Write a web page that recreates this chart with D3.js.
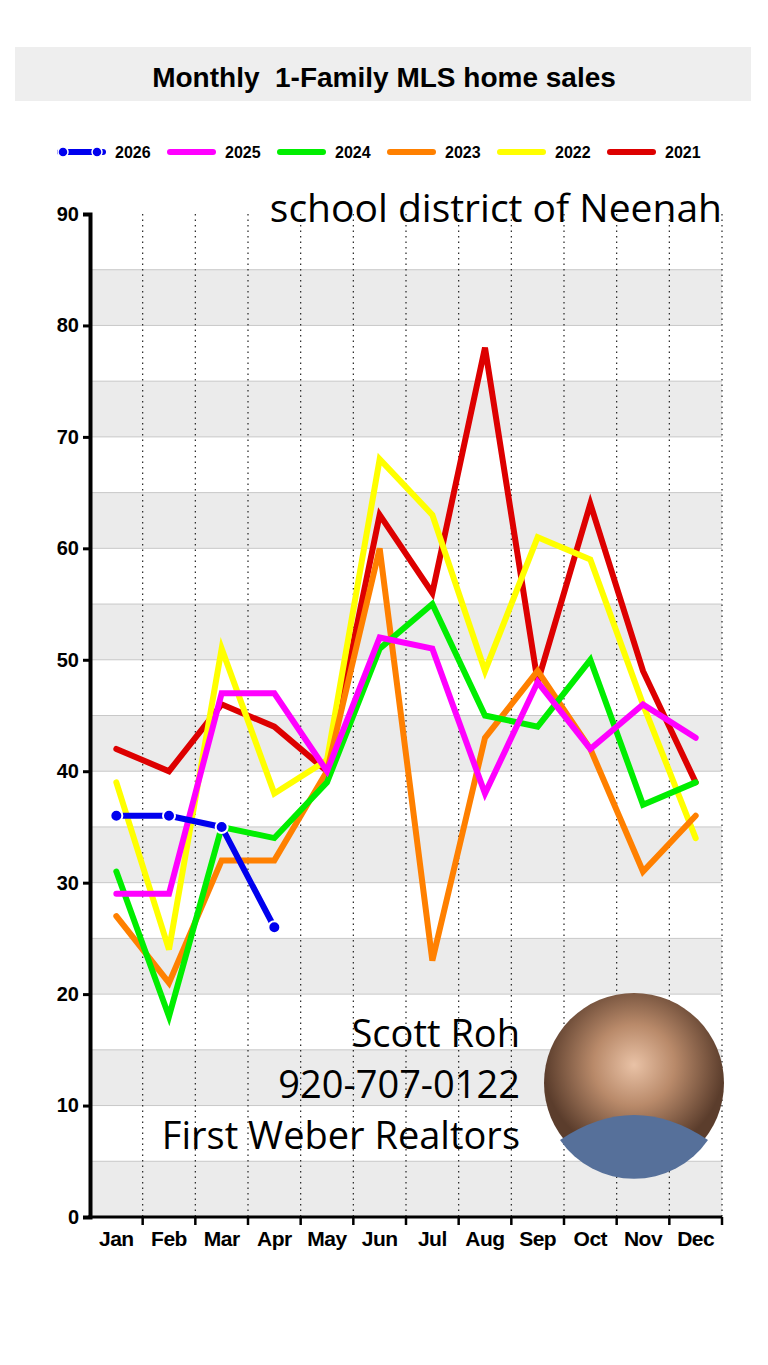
<!DOCTYPE html>
<meta charset="utf-8">
<script src="https://d3js.org/d3.v7.min.js"></script>
<style>
  body { margin: 0; background: #fff; }
  text { font-family: "Liberation Sans", Arial, sans-serif; }
</style>
<div id="chart"></div>
<script>
// data
var months = ["Jan","Feb","Mar","Apr","May","Jun","Jul","Aug","Sep","Oct","Nov","Dec"];
var years = ["2026","2025","2024","2023","2022","2021"];
var colors = ["#0000ee","#ff00ff","#00ee00","#ff8000","#ffff00","#dd0000"];
var s2026 = [36,36,35,26];
var s2025 = [29,29,47,47,40,52,51,38,48,42,46,43];
var s2024 = [31,18,35,34,39,51,55,45,44,50,37,39];
var s2023 = [27,21,32,32,40,60,23,43,49,42,31,36];
var s2022 = [39,24,51,38,41,68,63,49,61,59,46,34];
var s2021 = [42,40,46,44,40,63,56,78,48,64,49,39];
var yTicks = [0,10,20,30,40,50,60,70,80,90];

var series = [s2026,s2025,s2024,s2023,s2022,s2021];

var svg = d3.select("#chart").append("svg")
    .attr("width", 768).attr("height", 1365);

// title box
svg.append("rect").attr("x",15).attr("y",47).attr("width",736).attr("height",54).attr("fill","#eeeeee");
svg.append("text").attr("x",384).attr("y",87).attr("text-anchor","middle")
  .style("font-size","28px").style("font-weight","bold").style("white-space","pre")
  .text("Monthly  1-Family MLS home sales");

var pLeft = 90, pRight = 722, pTop = 214, pBottom = 1217;
var x = d3.scaleBand().domain(months).range([pLeft, pRight]);
var y = d3.scaleLinear().domain([0,90]).range([pBottom, pTop]);

// stripes
for (var v = 0; v < 90; v += 10) {
  svg.append("rect").attr("x",pLeft).attr("width",pRight-pLeft)
    .attr("y",y(v+5)).attr("height",y(v)-y(v+5)).attr("fill","#ebebeb");
}
// horizontal lines every 5
d3.range(5,90,5).forEach(function(v){
  svg.append("line").attr("x1",pLeft).attr("x2",pRight).attr("y1",y(v)).attr("y2",y(v))
    .attr("stroke","#c8c8c8").attr("stroke-width",1);
});
// vertical dotted lines at month boundaries
months.forEach(function(m){
  var xx = x(m) + x.bandwidth();
  svg.append("line").attr("x1",xx).attr("x2",xx).attr("y1",pTop).attr("y2",pBottom)
    .attr("stroke","#222").attr("stroke-width",1.2).attr("stroke-dasharray","1.5,4");
});

// axes
var ya = svg.append("g").attr("transform","translate("+pLeft+",0)")
  .call(d3.axisLeft(y).tickValues(yTicks).tickSize(7).tickPadding(4));
ya.select(".domain").attr("stroke-width",4);
ya.selectAll(".tick line").attr("stroke-width",3);
ya.selectAll("text").style("font-size","20px").style("font-weight","bold")
  .style("font-family","Liberation Sans, Arial");

var xa = svg.append("g").attr("transform","translate(0,"+pBottom+")")
  .call(d3.axisBottom(x).tickSize(0).tickPadding(14));
xa.select(".domain").attr("stroke-width",3).attr("d","M"+(pLeft-2)+",0H"+pRight);
xa.selectAll("text").style("font-size","21px").style("font-weight","bold")
  .style("font-family","Liberation Sans, Arial").style("letter-spacing","-0.5px");
months.forEach(function(m){
  var xx = x(m) + x.bandwidth();
  svg.append("line").attr("x1",xx).attr("x2",xx).attr("y1",pBottom).attr("y2",pBottom+8)
    .attr("stroke","#000").attr("stroke-width",2.5);
});

// lines, oldest first so newer sit on top
var line = d3.line().x(function(d,i){ return x(months[i]) + x.bandwidth()/2; })
  .y(function(d){ return y(d); });
for (var k = series.length-1; k >= 0; k--) {
  svg.append("path").attr("d", line(series[k])).attr("fill","none")
    .attr("stroke", colors[k]).attr("stroke-width", 6).attr("stroke-linejoin","miter")
    .attr("stroke-linecap","round");
}
svg.selectAll(".pt").data(s2026).enter().append("circle")
  .attr("cx",function(d,i){ return x(months[i]) + x.bandwidth()/2; })
  .attr("cy",function(d){ return y(d); }).attr("r",6)
  .attr("fill","#0000ee").attr("stroke","#fff").attr("stroke-width",2);

// legend
years.forEach(function(yr,i){
  var lx = 60 + i*110;
  svg.append("line").attr("x1",lx).attr("x2",lx+43).attr("y1",152).attr("y2",152)
    .attr("stroke",colors[i]).attr("stroke-width",6).attr("stroke-linecap","round");
  if (i === 0) {
    [lx+3, lx+37].forEach(function(cx){
      svg.append("circle").attr("cx",cx).attr("cy",152).attr("r",5)
        .attr("fill","#0000ee").attr("stroke","#fff").attr("stroke-width",1.5);
    });
  }
  svg.append("text").attr("x",lx+55).attr("y",158).style("font-size","16px")
    .style("font-weight","bold").text(yr);
});

// annotations
svg.append("text").attr("x",722).attr("y",222).attr("text-anchor","end")
  .style("font-family","Open Sans, sans-serif").style("font-size","39px").text("school district of Neenah");
["Scott Roh","920-707-0122","First Weber Realtors"].forEach(function(t,i){
  svg.append("text").attr("x",520).attr("y",1047+i*51).attr("text-anchor","end")
    .style("font-family","Open Sans, sans-serif").style("font-size","38px").text(t);
});

// portrait placeholder
var defs = svg.append("defs");
var g = defs.append("radialGradient").attr("id","ph").attr("cx","50%").attr("cy","40%");
g.append("stop").attr("offset","0%").attr("stop-color","#e9c2a6");
g.append("stop").attr("offset","45%").attr("stop-color","#b98a6a");
g.append("stop").attr("offset","100%").attr("stop-color","#5b3d2c");
svg.append("circle").attr("cx",634).attr("cy",1083).attr("r",90).attr("fill","url(#ph)");
svg.append("path").attr("d","M560,1140 Q634,1090 708,1140 A90,90 0 0 1 560,1140Z").attr("fill","#56709a");
</script>
